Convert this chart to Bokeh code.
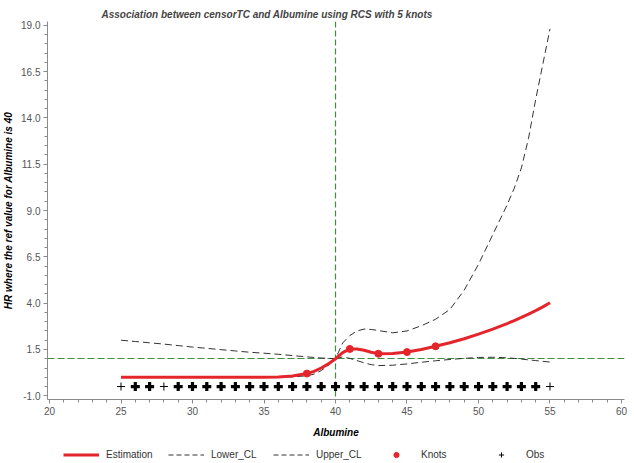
from bokeh.plotting import figure
from bokeh.layouts import column
from bokeh.models import (Legend, LegendItem, FixedTicker, PrintfTickFormatter,
                          ColumnDataSource, Title)
from bokeh.embed import file_html
from bokeh.resources import INLINE

# ---------------- data ----------------
albumine = [25, 26, 27, 28, 29, 30, 31, 32, 33, 34, 35, 36, 37,
            38, 38.5, 39, 39.5, 40, 40.5, 41, 41.5, 42, 42.5,
            43, 44, 45, 46, 47, 48, 49, 50, 51, 52,
            52.5, 53, 53.5, 54, 54.5, 55]
estimation = [0.0, 0.0, 0.0, 0.0, 0.0, 0.0, 0.0, 0.0, 0.0, 0.0, 0.0, 0.02, 0.07,
              0.2, 0.32, 0.5, 0.72, 1.0, 1.33, 1.53, 1.53, 1.46, 1.35,
              1.27, 1.28, 1.36, 1.5, 1.67, 1.86, 2.08, 2.33, 2.6, 2.9,
              3.06, 3.23, 3.41, 3.6, 3.8, 4.02]
lower_cl = [0.0, 0.0, 0.0, 0.0, 0.0, 0.0, 0.0, 0.0, 0.0, 0.0, 0.0, 0.0, 0.02,
            0.08, 0.17, 0.36, 0.64, 1.0, 1.1, 1.02, 0.9, 0.78, 0.68,
            0.63, 0.65, 0.72, 0.81, 0.89, 0.96, 1.02, 1.07, 1.08, 1.05,
            1.02, 0.98, 0.94, 0.9, 0.86, 0.82]
upper_cl = [2.0, 1.93, 1.86, 1.79, 1.71, 1.63, 1.56, 1.49, 1.42, 1.35, 1.3, 1.24, 1.17,
            1.1, 1.07, 1.04, 1.02, 1.0, 1.85, 2.25, 2.5, 2.6, 2.58,
            2.52, 2.4, 2.5, 2.78, 3.13, 3.66, 4.7, 6.1, 7.7, 9.3,
            10.2, 11.3, 12.9, 15.0, 16.9, 18.8]
knot_x = [38, 41, 43, 45, 47]
knot_hr = [0.2, 1.53, 1.27, 1.36, 1.67]
obs_x = list(range(25, 56))
obs_n = [1, 5, 3, 1] + [5] * 26 + [1]
obs_level = -0.5
ref_x = 40
ref_hr = 1.0
x_ticks = [20, 25, 30, 35, 40, 45, 50, 55, 60]
y_ticks = [-1.0, 1.5, 4.0, 6.5, 9.0, 11.5, 14.0, 16.5, 19.0]
legend_labels = ["Estimation", "Lower_CL", "Upper_CL", "Knots", "Obs"]

title_text = "Association between censorTC and Albumine using RCS with 5 knots"
x_label = "Albumine"
y_label = "HR where the ref value for Albumine is 40"

# ---------------- styles ----------------
FONT = "Liberation Sans"
RED = "#e4262c"
CL = "#333333"
GREEN = "#3f8f3f"

# ---------------- main figure ----------------
p = figure(frame_width=577, frame_height=378, output_backend="svg", toolbar_location=None,
           x_range=(19.86, 60.21), y_range=(-1.2, 19.2),
           min_border_left=38, min_border_right=3, min_border_top=21,
           min_border_bottom=40)
p.title = Title(text=title_text, align="left", offset=54,
                text_font=FONT, text_font_size="10px", text_font_style="bold italic",
                standoff=4)
p.outline_line_color = None
p.grid.visible = False

for ax in (p.xaxis[0], p.yaxis[0]):
    ax.axis_line_color = "#8a8a8a"
    ax.major_tick_line_color = "#8a8a8a"
    ax.minor_tick_line_color = "#8a8a8a"
    ax.major_tick_out = 4
    ax.major_tick_in = 0
    ax.minor_tick_out = 3
    ax.minor_tick_in = 0
    ax.major_label_text_font = FONT
    ax.major_label_text_font_size = "10px"
    ax.major_label_text_color = "#555555"
    ax.major_label_standoff = 3
    ax.axis_label_text_font = FONT
    ax.axis_label_text_font_size = "10px"
    ax.axis_label_text_font_style = "bold italic"
    ax.axis_label_text_color = "black"

p.xaxis.ticker = FixedTicker(ticks=x_ticks, minor_ticks=list(range(20, 61)))
p.xaxis.axis_label = x_label
p.xaxis.axis_label_standoff = 9
yminor = [-1.0 + 0.5 * i for i in range(41)]
p.yaxis.ticker = FixedTicker(ticks=y_ticks, minor_ticks=yminor)
p.yaxis.formatter = PrintfTickFormatter(format="%.1f")
p.yaxis.axis_label = y_label
p.yaxis.axis_label_standoff = 4

# reference lines (HR = 1 at the reference albumine value)
p.vspan(x=[ref_x], line_color=GREEN, line_dash="6 3", line_width=1.2)
p.hspan(y=[ref_hr], line_color=GREEN, line_dash="7 3", line_width=1)

src = ColumnDataSource(dict(x=albumine, est=estimation, lo=lower_cl, up=upper_cl))
p.line("x", "lo", source=src, line_color=CL, line_dash="7 4", line_width=1)
p.line("x", "up", source=src, line_color=CL, line_dash="7 4", line_width=1)
p.line("x", "est", source=src, line_color=RED, line_width=3)
p.scatter(knot_x, knot_hr, marker="circle", size=7, fill_color=RED, line_color=RED)

obs_bold_x = [x for x, n in zip(obs_x, obs_n) if n > 1]
obs_thin_x = [x for x, n in zip(obs_x, obs_n) if n == 1]
p.scatter(obs_thin_x, [obs_level] * len(obs_thin_x), marker="cross", size=8,
          line_color="black", line_width=1)
p.scatter(obs_bold_x, [obs_level] * len(obs_bold_x), marker="cross", size=9,
          line_color="black", line_width=3.2)

# ---------------- legend strip (keys drawn off-range, only the legend shows) ----------------
q = figure(width=618, height=22, output_backend="svg", toolbar_location=None,
           x_range=(0, 1), y_range=(0, 1), min_border=0,
           x_axis_location=None, y_axis_location=None)
q.outline_line_color = None
q.grid.visible = False
off = [-10, -9]
k_est = q.line(off, off, line_color=RED, line_width=3)
k_lo = q.line(off, off, line_color=CL, line_dash="5 3", line_width=1)
k_up = q.line(off, off, line_color=CL, line_dash="5 3", line_width=1)
k_knot = q.scatter(off, off, marker="circle", size=6, fill_color=RED, line_color=RED)
k_obs = q.scatter(off, off, marker="cross", size=7, line_color="black", line_width=1)
legend = Legend(items=[LegendItem(label=lab, renderers=[r]) for lab, r in
                       zip(legend_labels, [k_est, k_lo, k_up, k_knot, k_obs])],
                orientation="horizontal", location=(16, 1),
                label_text_font=FONT, label_text_font_size="10px",
                label_text_color="#333333",
                glyph_width=36, glyph_height=13, label_height=13, label_width=58,
                label_standoff=7, spacing=4, padding=0, margin=0,
                border_line_color=None, background_fill_alpha=0)
q.add_layout(legend)

open("out.html", "w").write(file_html(column(p, q, spacing=0), INLINE))
